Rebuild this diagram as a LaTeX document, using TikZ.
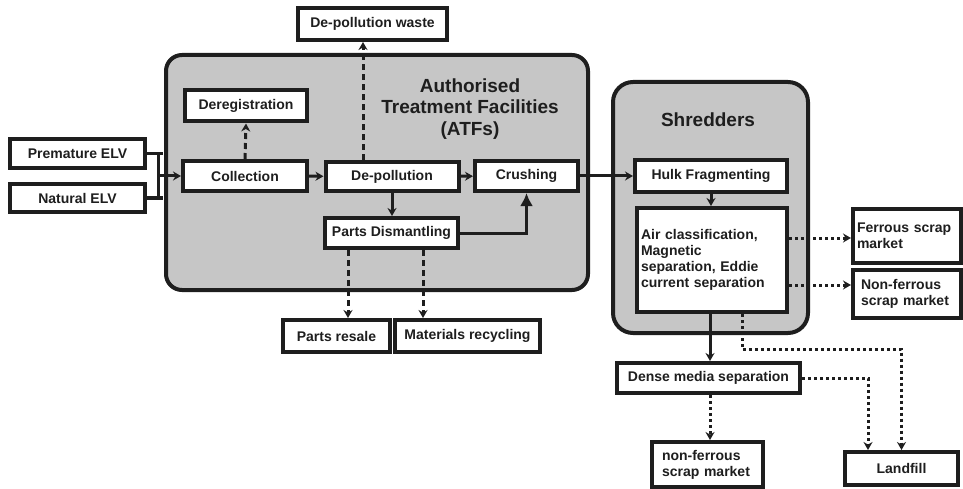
\documentclass[tikz,border=0pt]{standalone}
\usepackage{fontspec}
\setmainfont{Liberation Sans}
\usetikzlibrary{arrows.meta,positioning}
\definecolor{panelgray}{HTML}{C6C6C6}
\definecolor{inkgray}{HTML}{1E1E1E}
\tikzset{
  stage/.style={draw=inkgray, line width=4pt, fill=white, text=inkgray,
    font=\fontsize{14}{16}\selectfont\bfseries, inner sep=2pt},
  panel/.style={draw=inkgray, line width=4pt, fill=panelgray, rounded corners=16pt},
  head/.style={text=inkgray, align=center, font=\fontsize{19}{21.5}\selectfont\bfseries},
  flow/.style={draw=inkgray, line width=3pt, -{Stealth[length=8pt,width=9pt]}},
  dashflow/.style={flow, dash pattern=on 6pt off 4pt},
  dotflow/.style={flow, dash pattern=on 3pt off 3pt},
}

\begin{document}
\begin{tikzpicture}[x=1pt, y=-1pt]
  \useasboundingbox (0,0) rectangle (963,489);

  % panels
  \draw[panel] (166,55) rectangle (588,290);
  \draw[panel, rounded corners=20pt] (613,82) rectangle (808,333);
  \node[head] (atfhead) at (470,109) {Authorised\\Treatment Facilities\\(ATFs)};
  \node[head] (shredhead) at (708,120) {Shredders};

  % inputs and ATF stages
  \node[stage, minimum width=135pt, minimum height=29pt] (premature) at (77.5,153.5) {Premature ELV};
  \node[stage, minimum width=135pt, minimum height=28pt] (natural) at (77.5,198) {Natural ELV};
  \node[stage, minimum width=124pt, minimum height=30pt] (collection) at (245,176) {Collection};
  \node[stage, minimum width=122pt, minimum height=31pt] (dereg) at (246,106) {Deregistration};
  \node[stage, minimum width=133pt, minimum height=29pt] (depollution) at (392,176.5) {De-pollution};
  \node[stage, minimum width=103pt, minimum height=30pt] (crushing) at (526.5,176) {Crushing};
  \node[stage, minimum width=149pt, minimum height=32pt] (dpwaste) at (372.5,24) {De-pollution waste};
  \node[stage, minimum width=133pt, minimum height=30pt] (dismantling) at (391.5,233) {Parts Dismantling};
  \node[stage, minimum width=107pt, minimum height=32pt] (resale) at (336.5,336) {Parts resale};
  \node[stage, minimum width=145pt, minimum height=32pt] (recycling) at (467.5,336) {Materials recycling};

  % shredder stages and outlets
  \node[stage, minimum height=104pt, text width=142pt, inner xsep=4pt, align=left] (sorting) at (712,260)
    {Air classification,\\Magnetic\\separation, Eddie\\current separation};
  \node[stage, minimum width=152pt, minimum height=32pt] (hulk) at (711,176) {Hulk Fragmenting};
  \node[stage, minimum height=54pt, text width=100pt, inner xsep=4pt, align=left] (ferrous) at (907,236) {Ferrous scrap\\market};
  \node[stage, minimum height=48pt, text width=92pt, inner xsep=8pt, align=left] (nonferrous) at (907,294) {Non-ferrous\\scrap market};
  \node[stage, minimum width=183pt, minimum height=30pt] (dense) at (708.5,378) {Dense media separation};
  \node[stage, minimum height=45pt, text width=91pt, inner xsep=10pt, align=left] (nfscrap) at (707.5,464.5) {non-ferrous\\scrap market};
  \node[stage, minimum width=113pt, minimum height=33pt] (landfill) at (901.5,468.5) {Landfill};

  % connectors
  \coordinate (join) at (158,176);
  \draw[draw=inkgray, line width=3pt] (premature.east) -- ++(16,0);
  \draw[draw=inkgray, line width=3pt] (natural.east) -- ++(16,0);
  \draw[draw=inkgray, line width=3pt] (join |- premature.east) -- (join |- natural.east);
  \draw[flow] (join) -- (collection.west);
  \draw[dashflow] (collection.north) -- (dereg.south);
  \draw[flow] (collection) -- (depollution);
  \draw[dashflow] ([xshift=-29pt]depollution.north) -- ([xshift=-29pt]depollution.north |- dpwaste.south);
  \draw[flow] (depollution) -- (crushing);
  \draw[flow] (depollution.south) -- (depollution.south |- dismantling.north);
  \draw[flow, -{Latex[length=13pt,width=13pt]}] (dismantling.east) -| (crushing.south);
  \draw[dashflow] ([xshift=-43.5pt]dismantling.south) -- ([xshift=-43.5pt]dismantling.south |- resale.north);
  \draw[dashflow] ([xshift=31.5pt]dismantling.south) -- ([xshift=31.5pt]dismantling.south |- recycling.north);
  \draw[flow] (crushing) -- (hulk);
  \draw[flow] (hulk.south) -- (hulk.south |- sorting.north);
  \draw[dotflow] ([yshift=22pt]sorting.east) -- ([yshift=22pt]sorting.east -| ferrous.west);
  \draw[dotflow] ([yshift=-25pt]sorting.east) -- ([yshift=-25pt]sorting.east -| nonferrous.west);
  \draw[flow] ([xshift=-2pt]sorting.south) -- ([xshift=-2pt]sorting.south |- dense.north);
  \draw[dotflow] ([xshift=30pt]sorting.south) -- ++(0,35) -| (landfill.north);
  \draw[dotflow] (dense.east) -| ([xshift=-33.5pt]landfill.north);
  \draw[dotflow] ([xshift=1.5pt]dense.south) -- ([xshift=1.5pt]dense.south |- nfscrap.north);
\end{tikzpicture}
\end{document}
